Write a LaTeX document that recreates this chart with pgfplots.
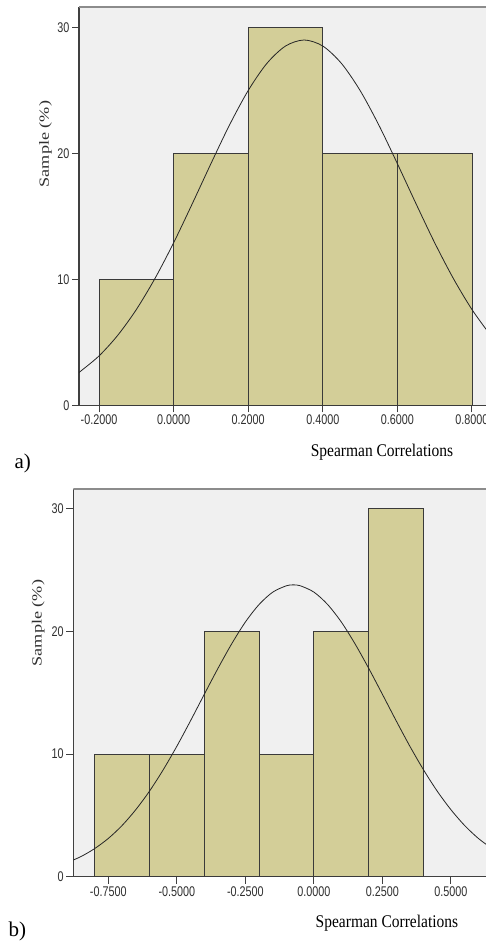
\documentclass[border=0pt]{standalone}
\usepackage{fontspec}
\setmainfont{Liberation Serif}
\newfontfamily\sansf{Liberation Sans}
\usepackage{graphicx}
\usepackage{pgfplots}
\pgfplotsset{compat=1.18}
\definecolor{barfill}{HTML}{D3CE98}
\definecolor{bardraw}{HTML}{3A3A3A}
\definecolor{bggray}{HTML}{F0F0F0}
\definecolor{axdark}{HTML}{404040}
\definecolor{axlight}{HTML}{8C8C8C}
\definecolor{ticktext}{HTML}{303030}
\newcommand{\tl}[1]{\scalebox{1}[1.3]{#1}}
\pgfplotsset{
  myhist/.style={
    scale only axis,
    axis x line=bottom, axis y line=left,
    axis line style={-, axdark, line width=1.2pt},
    axis background/.style={fill=bggray},
    ymin=0, ymax=31.62,
    ytick={0,10,20,30}, yticklabels={\tl{0},\tl{10},\tl{20},\tl{30}},
    tick align=outside, major tick length=7pt,
    tick style={axdark, line width=1pt},
    tick label style={font=\sansf\fontsize{10.8}{12}\selectfont, text=ticktext, inner sep=2.5pt},
    ylabel={\scalebox{1.3}[1]{Sample (\%)}},
    every axis y label/.style={rotate=90, anchor=center,
      font=\fontsize{14}{16}\selectfont, text=ticktext},
    xlabel={\scalebox{1}[1.15]{Spearman Correlations}},
    every axis x label/.style={anchor=center, font=\fontsize{15.5}{18}\selectfont, text=black},
  }
}
\begin{document}
\begin{tikzpicture}
\useasboundingbox (0,0) rectangle (486pt,943pt);
% ---------- a) ----------
\begin{axis}[myhist,
  at={(79pt,537.7pt)}, anchor=south west,
  width=407pt, height=398.3pt,
  xmin=-0.2537, xmax=0.8376,
  xtick={-0.2,0,0.2,0.4,0.6,0.8},
  xticklabels={\tl{-0.2000},\tl{0.0000},\tl{0.2000},\tl{0.4000},\tl{0.6000},\tl{0.8000}},
  every axis y label/.append style={at={([xshift=-33.5pt]rel axis cs:0,0.656)}},
  every axis x label/.append style={at={([yshift=-46.7pt]rel axis cs:0.7445,0)}},
]
\draw[axlight, line width=1.2pt] (rel axis cs:0,1) -- (rel axis cs:1,1);
\addplot[ybar interval, fill=barfill, draw=bardraw, line width=0.9pt]
  coordinates {(-0.2,10) (0,20) (0.2,30) (0.4,20) (0.6,20) (0.8,20)};
\addplot[smooth, black!85, line width=0.8pt] coordinates {
(-0.26,2.45) (-0.25,2.69) (-0.20,3.92) (-0.15,5.55) (-0.10,7.60) (-0.05,10.07)
(0.00,12.90) (0.05,16.00) (0.10,19.18) (0.15,22.26) (0.20,24.99) (0.25,27.14)
(0.30,28.52) (0.35,29.00) (0.40,28.52) (0.45,27.14) (0.50,24.99) (0.55,22.26)
(0.60,19.18) (0.65,16.00) (0.70,12.90) (0.75,10.07) (0.80,7.60) (0.85,5.55)};
\end{axis}
\node[anchor=west, font=\fontsize{21}{24}\selectfont] at (11pt,480pt) {a)};
% ---------- b) ----------
\begin{axis}[myhist,
  at={(73.3pt,66.3pt)}, anchor=south west,
  width=412.7pt, height=387.7pt,
  xmin=-0.8777, xmax=0.6277,
  xtick={-0.75,-0.5,-0.25,0,0.25,0.5},
  xticklabels={\tl{-0.7500},\tl{-0.5000},\tl{-0.2500},\tl{0.0000},\tl{0.2500},\tl{0.5000}},
  every axis y label/.append style={at={([xshift=-35pt]rel axis cs:0,0.654)}},
  every axis x label/.append style={at={([yshift=-46.3pt]rel axis cs:0.760,0)}},
]
\draw[axlight, line width=1.2pt] (rel axis cs:0,1) -- (rel axis cs:1,1);
\addplot[ybar interval, fill=barfill, draw=bardraw, line width=0.9pt]
  coordinates {(-0.8,10) (-0.6,10) (-0.4,20) (-0.2,10) (0,20) (0.2,30) (0.4,30)};
\addplot[smooth, black!85, line width=0.8pt] coordinates {
(-0.90,1.15) (-0.85,1.64) (-0.80,2.29) (-0.75,3.12) (-0.70,4.17) (-0.65,5.46)
(-0.60,6.97) (-0.55,8.71) (-0.50,10.64) (-0.45,12.72) (-0.40,14.87) (-0.35,16.99)
(-0.30,18.99) (-0.25,20.77) (-0.20,22.20) (-0.15,23.21) (-0.10,23.73) (-0.075,23.80)
(-0.05,23.73) (0.00,23.21) (0.05,22.20) (0.10,20.77) (0.15,18.99) (0.20,16.99)
(0.25,14.87) (0.30,12.72) (0.35,10.64) (0.40,8.71) (0.45,6.97) (0.50,5.46)
(0.55,4.17) (0.60,3.12) (0.65,2.29)};
\end{axis}
\node[anchor=west, font=\fontsize{21}{24}\selectfont] at (5pt,12pt) {b)};
\end{tikzpicture}
\end{document}
